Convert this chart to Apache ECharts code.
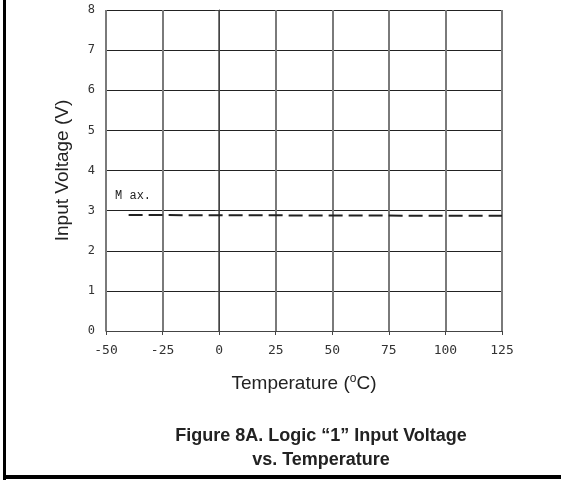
<!DOCTYPE html>
<html>
<head>
<meta charset="utf-8">
<script src="https://cdn.jsdelivr.net/npm/echarts@6/dist/echarts.min.js"></script>
<style>html,body{margin:0;padding:0;background:#fff}#c{width:561px;height:480px}</style>
</head>
<body>
<div id="c"></div>
<script>
var xTicks = [-50, -25, 0, 25, 50, 75, 100, 125];
var yTicks = [0, 1, 2, 3, 4, 5, 6, 7, 8];
var maxTemp = [-40, 125];
var maxVolt = [2.89, 2.87];
var maxLabelPos = [-46, 3.38];
var titleLines = ['Figure 8A. Logic \u201c1\u201d Input Voltage', 'vs. Temperature'];

var chart = echarts.init(document.getElementById('c'), null, {renderer: 'canvas'});
var monoFont = 'DejaVu Sans Mono';
chart.setOption({
  animation: false,
  backgroundColor: '#fff',
  grid: {left: 106, right: 59, top: 10, bottom: 149, containLabel: false},
  title: {
    text: titleLines.join('\n'),
    left: 316, top: 419, textAlign: 'center',
    textStyle: {fontFamily: 'Liberation Sans', fontWeight: 'bold', fontSize: 18, color: '#222', lineHeight: 24}
  },
  xAxis: {
    type: 'value', min: xTicks[0], max: xTicks[xTicks.length - 1], interval: 25,
    name: 'Temperature ({sup|o}C)', nameLocation: 'middle', nameGap: 42,
    nameTextStyle: {fontFamily: 'Liberation Sans', fontSize: 19, color: '#222',
      rich: {sup: {fontFamily: 'Liberation Sans', fontSize: 12, color: '#222', verticalAlign: 'top', padding: [0, 0, 9, 0]}}},
    axisLine: {show: true, lineStyle: {color: '#444', width: 1}},
    axisTick: {show: true, length: 4, lineStyle: {color: '#444'}},
    axisLabel: {margin: 13, fontFamily: monoFont, fontSize: 13, color: '#333'},
    splitLine: {show: true, lineStyle: {color: '#7a7a7a', width: 2}}
  },
  yAxis: {
    type: 'value', min: yTicks[0], max: yTicks[yTicks.length - 1], interval: 1,
    name: 'Input Voltage (V)', nameLocation: 'middle', nameGap: 34,
    nameTextStyle: {fontFamily: 'Liberation Sans', fontSize: 19, color: '#222'},
    axisLine: {show: true, lineStyle: {color: '#444', width: 1}},
    axisTick: {show: true, length: 4, lineStyle: {color: '#444'}},
    axisLabel: {margin: 11, fontFamily: monoFont, fontSize: 12, color: '#333'},
    splitLine: {show: true, lineStyle: {color: '#222', width: 1}}
  },
  series: [{
    type: 'line',
    data: maxTemp.map(function (t, i) { return [t, maxVolt[i]]; }),
    symbol: 'none',
    lineStyle: {color: '#222', width: 2, type: [14, 6]},
    markPoint: {
      symbol: 'circle', symbolSize: 0,
      data: [{coord: maxLabelPos}],
      label: {show: true, position: 'right', distance: 0, formatter: 'M ax.',
        fontFamily: 'Liberation Mono', fontSize: 12, color: '#222'}
    }
  }],
  graphic: [
    {type: 'rect', left: 3, top: 0, shape: {width: 3, height: 480}, style: {fill: '#000'}},
    {type: 'rect', left: 3, top: 475, shape: {width: 558, height: 4}, style: {fill: '#000'}}
  ]
});
</script>
</body>
</html>
